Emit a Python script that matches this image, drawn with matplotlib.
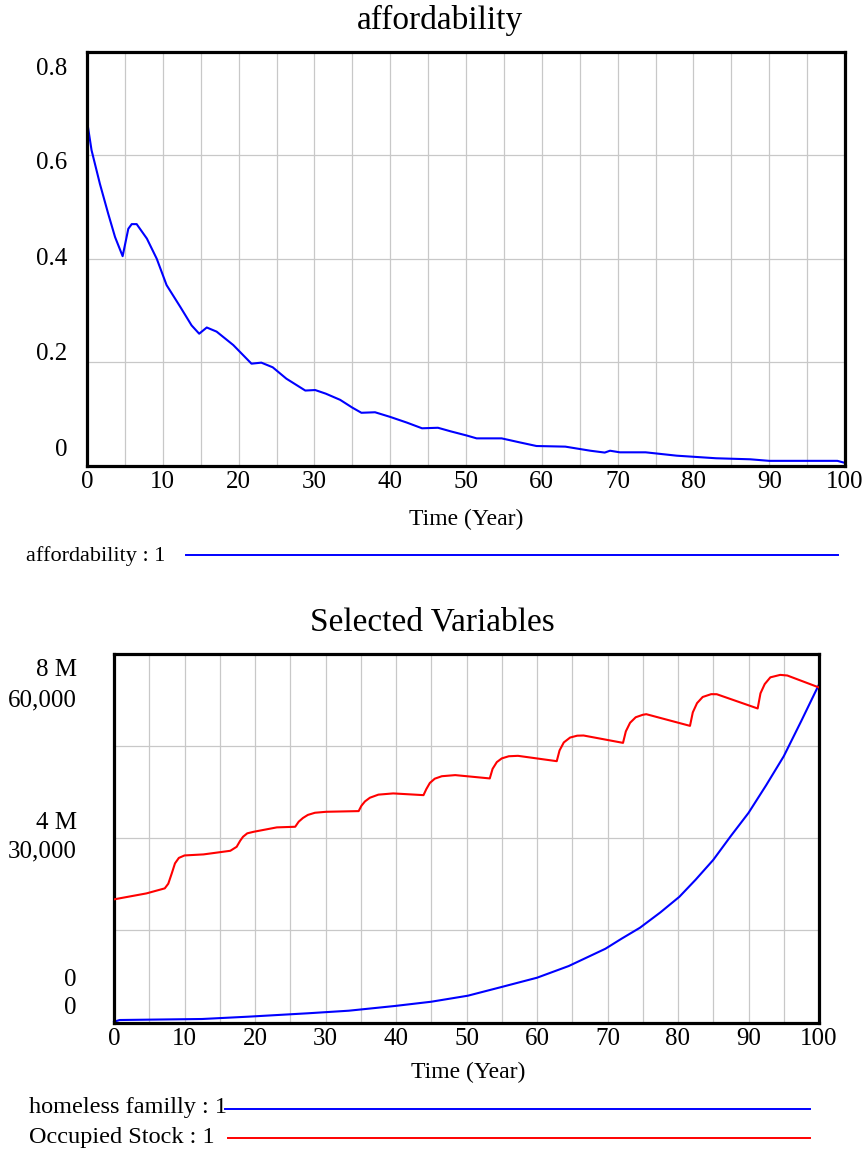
import numpy as np
import matplotlib.pyplot as plt
from matplotlib.lines import Line2D

plt.rcParams['font.family'] = ['Liberation Serif', 'DejaVu Serif']

# affordability : 1
aff_time = [0, 0.6, 1.7, 2.8, 3.7, 4.7, 5.45, 5.9, 6.55, 7.9, 9.2, 10.5, 12.3,
            13.8, 14.8, 15.8, 17.1, 19.3, 21.7, 23.0, 24.5, 26.3, 28.8, 30.1,
            31.5, 33.4, 35.0, 36.2, 38.0, 40.0, 42.2, 44.2, 46.3, 48.0, 50.1,
            51.4, 54.7, 57.0, 59.3, 63.1, 66.4, 68.3, 69.0, 70.3, 73.7, 77.8,
            83.0, 87.5, 90.0, 99.0, 100]
aff_value = [0.667, 0.61, 0.545, 0.487, 0.442, 0.405, 0.458, 0.467, 0.467,
             0.439, 0.400, 0.349, 0.307, 0.271, 0.255, 0.267, 0.259, 0.233,
             0.197, 0.199, 0.190, 0.168, 0.145, 0.146, 0.139, 0.127, 0.112,
             0.102, 0.103, 0.094, 0.083, 0.072, 0.073, 0.066, 0.058, 0.0525,
             0.0525, 0.045, 0.0377, 0.0365, 0.0286, 0.025, 0.0286, 0.0255,
             0.0255, 0.019, 0.014, 0.012, 0.009, 0.009, 0.005]

# homeless familly : 1
home_time = [0, 0.8, 12.5, 19.0, 27.5, 33.3, 39.8, 45.0, 50.2, 54.8, 60.0,
             64.5, 69.7, 72.0, 74.6, 77.5, 80.2, 82.5, 85.0, 87.5, 90.0,
             92.5, 95.0, 97.5, 100]
home_value = [17e3, 54e3, 76e3, 126e3, 200e3, 256e3, 358e3, 451e3, 582e3,
              764e3, 972e3, 1.226e6, 1.601e6, 1.82e6, 2.057e6, 2.39e6,
              2.73e6, 3.1e6, 3.53e6, 4.05e6, 4.55e6, 5.15e6, 5.78e6,
              6.55e6, 7.34e6]

# Occupied Stock : 1
stock_time = [0, 4.6, 7.2, 7.7, 8.2, 8.65, 9.2, 10.0, 12.7, 16.5, 17.4, 17.9,
              18.3, 18.9, 19.8, 23.1, 25.7, 26.2, 26.8, 27.5, 28.5, 30.1,
              34.7, 35.1, 35.6, 36.3, 37.5, 39.6, 43.9, 44.3, 44.8, 45.5,
              46.5, 48.4, 53.3, 53.7, 54.3, 55.0, 56.0, 57.3, 62.8, 63.2,
              63.8, 64.7, 65.7, 66.6, 72.2, 72.6, 73.2, 74.0, 75.0, 75.5,
              81.7, 82.1, 82.7, 83.5, 84.7, 85.5, 91.3, 91.7, 92.3, 93.1,
              94.5, 95.5, 100]
stock_value = [20050, 21020, 21840, 22600, 24300, 25910, 26800, 27200, 27370,
               27960, 28610, 29600, 30240, 30800, 31050, 31770, 31870, 32700,
               33300, 33800, 34150, 34310, 34420, 35300, 36000, 36600, 37100,
               37300, 37020, 38000, 39000, 39700, 40100, 40280, 39740, 41300,
               42400, 43000, 43350, 43420, 42550, 44300, 45600, 46400, 46700,
               46730, 45530, 47400, 48800, 49700, 50100, 50200, 48300, 50500,
               52000, 53000, 53460, 53450, 51130, 53600, 55100, 56200, 56600,
               56500, 54550]

x_ticks = list(range(0, 101, 10))
aff_labels = ['0', '0.2', '0.4', '0.6', '0.8']
home_labels = ['0', '4 M', '8 M']
stock_labels = ['0', '30,000', '60,000']

W, H = 868, 1152
fig = plt.figure(figsize=(W / 100, H / 100), dpi=100)
grid_kw = dict(color='#c8c8c8', linewidth=0.9)


def add_axes_px(left, top, right, bottom):
    return fig.add_axes([left / W, 1 - bottom / H, (right - left) / W, (bottom - top) / H])


def frame(ax, ymax, nrows):
    ax.set_xlim(0, 100)
    ax.set_ylim(0, ymax)
    ax.set_xticks(x_ticks)
    ax.set_xticks(range(0, 101, 5), minor=True)
    ax.set_yticks(np.linspace(0, ymax, nrows + 1))
    ax.set_yticklabels([])
    ax.tick_params(which='both', length=0)
    ax.tick_params(axis='x', labelsize=18, pad=4)
    ax.grid(True, which='both', **grid_kw)
    ax.set_axisbelow(True)
    for s in ax.spines.values():
        s.set_linewidth(2.3)
        s.set_zorder(5)


def ylabel_text(ax, label, frac, dx):
    ax.annotate(label, xy=(0, frac), xycoords='axes fraction', xytext=(-dx, 0),
                textcoords='offset pixels', ha='right', va='center', fontsize=18)


# top panel
ax1 = add_axes_px(87, 52, 845, 465.5)
frame(ax1, 0.8, 4)
ax1.plot(aff_time, aff_value, color='#0000ff', lw=1.5, zorder=3)
for lab, frac in zip(aff_labels, [0.037, 0.270, 0.499, 0.731, 0.959]):
    ylabel_text(ax1, lab, frac, 20)
fig.text(440 / W, 1 - 20 / H, 'affordability', ha='center', va='center', fontsize=24)
fig.text(466 / W, 1 - 519 / H, 'Time (Year)', ha='center', va='center', fontsize=17)
fig.text(26 / W, 1 - 556 / H, 'affordability : 1', ha='left', va='center', fontsize=16)
fig.add_artist(Line2D([186 / W, 838 / W], [1 - 555 / H] * 2, color='#0000ff', lw=1.4))

# bottom panel
ax2 = add_axes_px(114, 654, 819, 1022.5)
frame(ax2, 8e6, 4)
ax2.plot(home_time, home_value, color='#0000ff', lw=1.5, zorder=3, clip_on=False)
ax3 = ax2.twinx()
ax3.set_ylim(0, 60000)
ax3.set_yticks([])
for s in ax3.spines.values():
    s.set_visible(False)
ax3.plot(stock_time, stock_value, color='#ff0000', lw=1.5, zorder=3)
for lab, frac in zip(home_labels, [0.115, 0.541, 0.957]):
    ylabel_text(ax2, lab, frac, 37)
for lab, frac in zip(stock_labels, [0.039, 0.463, 0.875]):
    ylabel_text(ax2, lab, frac, 37)
fig.text(432 / W, 1 - 622 / H, 'Selected Variables', ha='center', va='center', fontsize=24)
fig.text(468 / W, 1 - 1072 / H, 'Time (Year)', ha='center', va='center', fontsize=17)
fig.text(29 / W, 1 - 1108 / H, 'homeless familly : 1', ha='left', va='center', fontsize=17.5)
fig.text(29 / W, 1 - 1137 / H, 'Occupied Stock : 1', ha='left', va='center', fontsize=17.5)
fig.add_artist(Line2D([225 / W, 810 / W], [1 - 1109 / H] * 2, color='#0000ff', lw=1.4))
fig.add_artist(Line2D([228 / W, 810 / W], [1 - 1138 / H] * 2, color='#ff0000', lw=1.4))

fig.savefig('out.png', dpi=100)
